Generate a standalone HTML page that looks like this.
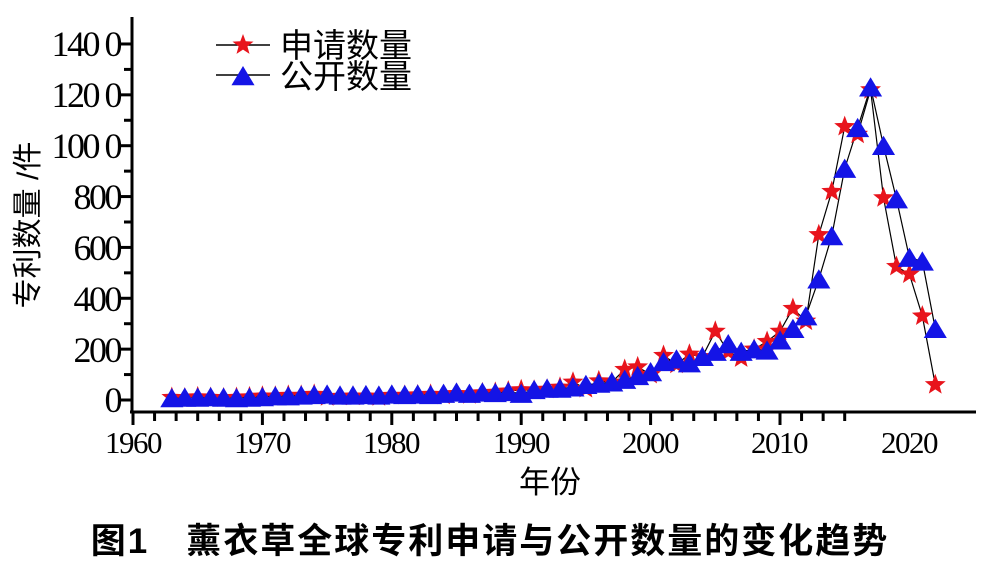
<!DOCTYPE html><html><head><meta charset="utf-8"><style>body{margin:0;background:#fff}svg{display:block}</style></head><body>
<svg id="s" width="984" height="567" xmlns="http://www.w3.org/2000/svg" font-family="'Liberation Serif','Noto Serif CJK SC',serif">
<g stroke="#000" stroke-width="3" fill="none">
<line x1="132" y1="17" x2="132" y2="413"/><line x1="130" y1="412" x2="976" y2="412"/>
</g>
<g id="ax"></g>
<g font-size="36" text-anchor="end" fill="#000" letter-spacing="-2.5">
<text x="120" y="56">140 0</text><text x="120" y="107">120 0</text><text x="120" y="158">100 0</text>
<text x="120" y="209">800</text><text x="120" y="260">600</text><text x="120" y="311">400</text>
<text x="120" y="362">200</text><text x="120" y="412">0</text>
</g>
<g font-size="31" text-anchor="middle" fill="#000" letter-spacing="-1.5">
<text x="133" y="453">1960</text><text x="262" y="453">1970</text><text x="391" y="453">1980</text>
<text x="521" y="453">1990</text><text x="650" y="453">2000</text><text x="779" y="453">2010</text><text x="909" y="453">2020</text>
</g>
<text x="550" y="493" font-size="31" text-anchor="middle" font-family="'Liberation Sans','Noto Sans CJK SC',sans-serif">年份</text>
<text transform="translate(38,225) rotate(-90)" font-size="30" text-anchor="middle" font-family="'Liberation Sans','Noto Sans CJK SC',sans-serif">专利数量 /件</text>
<g id="pl"></g>
<g stroke="#000" stroke-width="1.5"><line x1="216" y1="45" x2="270" y2="45"/><line x1="216" y1="75" x2="270" y2="75"/></g>
<g id="lg"></g>
<text x="280" y="57" font-size="33" font-family="'Liberation Sans','Noto Sans CJK SC',sans-serif">申请数量</text><text x="280" y="88" font-size="33" font-family="'Liberation Sans','Noto Sans CJK SC',sans-serif">公开数量</text>
<text x="490" y="553" font-size="35" font-weight="bold" text-anchor="middle" font-family="'Liberation Sans','Noto Sans CJK SC',sans-serif" letter-spacing="2">图1　薰衣草全球专利申请与公开数量的变化趋势</text>
</svg>
<script>
const NS="http://www.w3.org/2000/svg";
function el(p,t,a){const e=document.createElementNS(NS,t);for(const k in a)e.setAttribute(k,a[k]);p.appendChild(e);return e}
const ax=document.getElementById('ax');
for(let v=0;v<=1400;v+=100){const y=400-v*0.2543;el(ax,'line',{x1:v%200==0?120:124,x2:132,y1:y,y2:y,stroke:'#000','stroke-width':3})}
for(let i=0;i<=33;i++){const x=133+i*(129.4/6);if(x>976)break;el(ax,'line',{x1:x,x2:x,y1:412,y2:i%6==0?425:421,stroke:'#000','stroke-width':3})}
const X=y=>133+(y-1960)*12.94,Y=v=>400-v*0.2543;
let app=[20,12,10,8,12,10,8,10,12,15,15,18,18,22,12,14,15,15,12,18,18,20,22,18,25,20,28,30,35,40,38,42,50,70,45,75,70,120,130,100,175,140,180,170,270,190,165,200,230,270,360,310,650,820,1075,1045,1220,795,525,495,330,60].slice(2);
let pub=[5,5,8,10,10,12,10,8,10,12,15,15,18,20,22,18,18,20,18,22,20,22,20,25,30,25,30,28,32,25,40,45,45,50,60,65,70,80,95,110,150,160,145,170,190,220,190,200,195,235,280,330,475,645,910,1070,1230,1000,790,560,545,280].slice(2);
const Y0=1963;
const pl=document.getElementById('pl');
function line(d){el(pl,'polyline',{points:d.map((v,i)=>X(Y0+i)+','+Y(v)).join(' '),fill:'none',stroke:'#000','stroke-width':1.2})}
function star(g,cx,cy,r){let p=[];for(let k=0;k<10;k++){const a=-Math.PI/2+k*Math.PI/5,rr=k%2?r*0.42:r;p.push((cx+rr*Math.cos(a)).toFixed(1)+','+(cy+rr*Math.sin(a)).toFixed(1))}el(g,'polygon',{points:p.join(' '),fill:'#e8141c'})}
function tri(g,cx,cy,r){el(g,'polygon',{points:`${cx},${cy-r} ${cx-r*1.05},${cy+r*0.75} ${cx+r*1.05},${cy+r*0.75}`,fill:'#1414e6'})}
line(app);line(pub);
app.forEach((v,i)=>star(pl,X(Y0+i),Y(v),11));
pub.forEach((v,i)=>tri(pl,X(Y0+i),Y(v)+1,11));
const lg=document.getElementById('lg');star(lg,243,45,11);tri(lg,243,77,11);
</script>
</body></html>
